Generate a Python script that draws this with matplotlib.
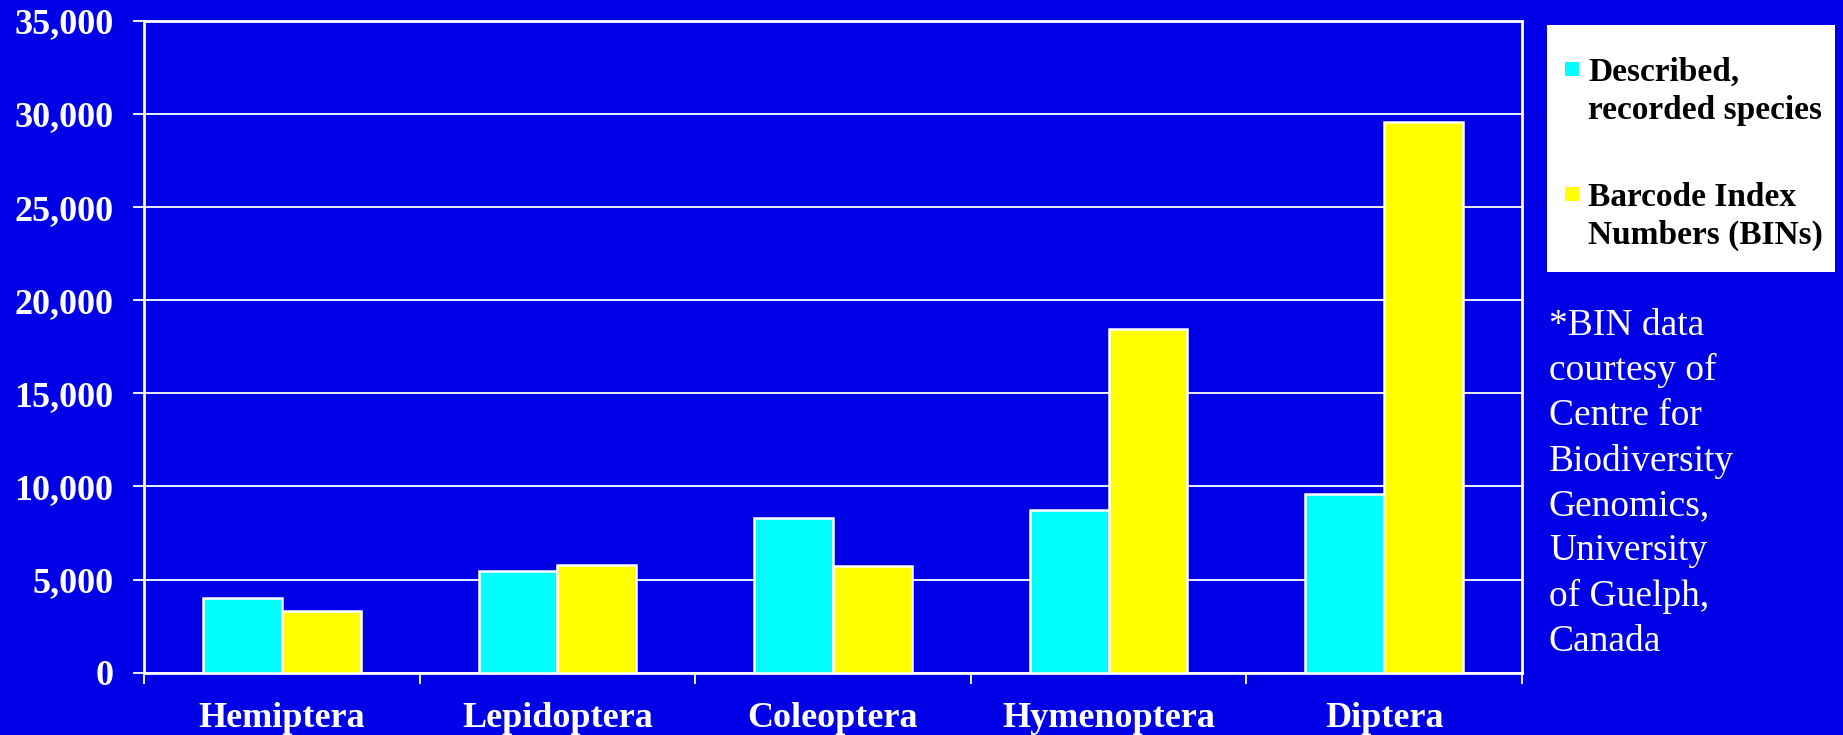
import matplotlib.pyplot as plt
from matplotlib.patches import Rectangle
from matplotlib.ticker import FuncFormatter, MultipleLocator
import numpy as np

orders = ["Hemiptera", "Lepidoptera", "Coleoptera", "Hymenoptera", "Diptera"]
described = [4000, 5450, 8300, 8750, 9600]
bins = [3300, 5800, 5750, 18450, 29600]
legend_labels = ["Described,\nrecorded species", "Barcode Index\nNumbers (BINs)"]
note = "*BIN data\ncourtesy of\nCentre for\nBiodiversity\nGenomics,\nUniversity\nof Guelph,\nCanada"

bg = "#0000E6"
cyan = "#00FFFF"
yellow = "#FFFF00"

plt.rcParams["font.family"] = ["Liberation Serif", "DejaVu Serif"]

fig = plt.figure(figsize=(18.43, 7.35), dpi=100)
fig.patch.set_facecolor(bg)
ax = fig.add_axes([0.0781, 0.0848, 0.7477, 0.8866])
ax.set_facecolor(bg)

x = np.arange(len(orders))
w = 0.286
ax.bar(x - w / 2, described, w, color=cyan, edgecolor="white", linewidth=1.8, zorder=3)
ax.bar(x + w / 2, bins, w, color=yellow, edgecolor="white", linewidth=1.8, zorder=3)

ax.set_xlim(-0.5, len(orders) - 0.5)
ax.set_ylim(0, 35000)
ax.yaxis.set_major_locator(MultipleLocator(5000))
ax.yaxis.set_major_formatter(FuncFormatter(lambda v, p: f"{int(v):,}"))
ax.grid(axis="y", color="white", linewidth=1.3, zorder=0)

ax.set_xticks(x)
ax.set_xticklabels(orders)
ax.set_xticks(np.arange(-0.5, len(orders)), minor=True)
ax.tick_params(axis="x", which="major", length=0, pad=21)
ax.tick_params(axis="x", which="minor", length=8, width=1.3, color="white")
ax.tick_params(axis="y", length=8, width=1.3, color="white", pad=14)
for lab in ax.get_xticklabels() + ax.get_yticklabels():
    lab.set_color("white")
    lab.set_fontsize(26)
    lab.set_fontweight("bold")

for s in ax.spines.values():
    s.set_color("white")
    s.set_linewidth(2)

# legend box drawn by hand so the swatch sits on the first line
fig.patches.append(Rectangle((1547 / 1843, 1 - 272 / 735), 288 / 1843, 247 / 735,
                             transform=fig.transFigure, facecolor="white", edgecolor="none"))
for i, (lab, col) in enumerate(zip(legend_labels, [cyan, yellow])):
    ytop = 1 - (57 + i * 125) / 735
    fig.patches.append(Rectangle((1565 / 1843, ytop - 19 / 735), 14 / 1843, 14 / 735,
                                 transform=fig.transFigure, facecolor=col, edgecolor="none"))
    fig.text(1588 / 1843, ytop, lab, color="black", fontsize=24, fontweight="bold",
             va="top", ha="left", linespacing=1.3)

fig.text(1549 / 1843, 1 - 308 / 735, note, color="white", fontsize=27,
         va="top", ha="left", linespacing=1.39)

fig.savefig("out.png", dpi=100, facecolor=bg)
